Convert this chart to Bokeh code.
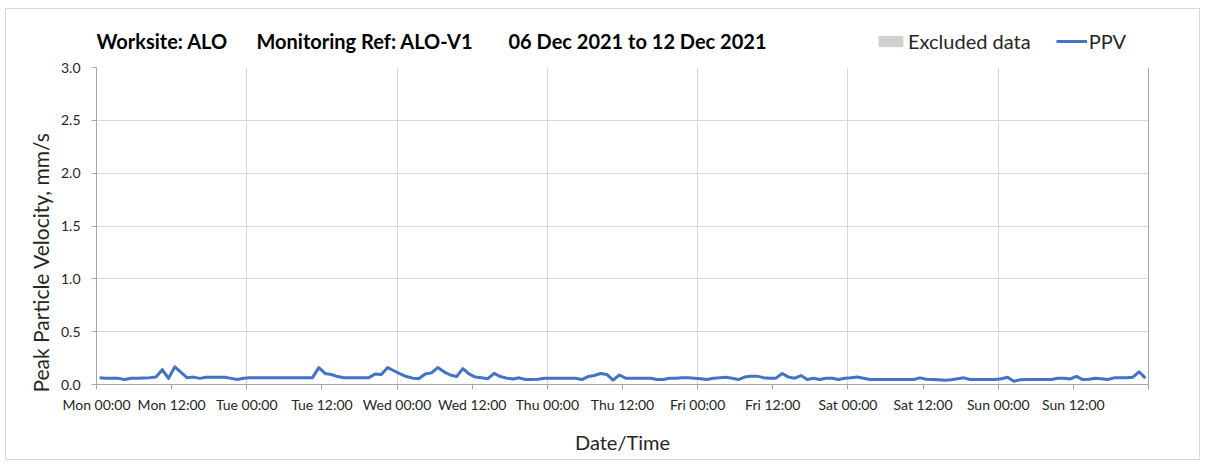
import math
import pandas as pd
from bokeh.plotting import figure
from bokeh.layouts import column, row
from bokeh.models import (ColumnDataSource, FixedTicker, Legend, LegendItem, Label,
                          NumeralTickFormatter, CustomJSTickFormatter, Range1d, LinearAxis)
from bokeh.embed import file_html
from bokeh.resources import INLINE

# ---------------- data ----------------
title_parts = ["Worksite: ALO", "Monitoring Ref: ALO-V1", "06 Dec 2021 to 12 Dec 2021"]
legend_labels = ["Excluded data", "PPV"]
y_axis_title = "Peak Particle Velocity, mm/s"
x_axis_title = "Date/Time"

period_start = "2021-12-06 00:00"
period_end = "2021-12-13 00:00"
first_reading = "2021-12-06 00:30"

ppv = [
    0.065, 0.06, 0.06, 0.058, 0.047, 0.06, 0.06, 0.062, 0.065, 0.072, 0.14, 0.057,
    0.167, 0.115, 0.063, 0.07, 0.058, 0.068, 0.068, 0.068, 0.068, 0.058, 0.047, 0.06,
    0.063, 0.063, 0.063, 0.063, 0.063, 0.063, 0.063, 0.063, 0.063, 0.063, 0.065, 0.16,
    0.105, 0.095, 0.075, 0.063, 0.063, 0.063, 0.063, 0.065, 0.1, 0.095, 0.16, 0.13,
    0.1, 0.075, 0.06, 0.057, 0.1, 0.11, 0.16, 0.12, 0.09, 0.075, 0.15, 0.1,
    0.07, 0.063, 0.055, 0.105, 0.075, 0.06, 0.053, 0.063, 0.047, 0.047, 0.05, 0.06,
    0.06, 0.06, 0.06, 0.06, 0.06, 0.047, 0.075, 0.085, 0.104, 0.095, 0.041, 0.09,
    0.06, 0.06, 0.06, 0.06, 0.06, 0.047, 0.047, 0.06, 0.06, 0.063, 0.063, 0.06,
    0.055, 0.047, 0.06, 0.063, 0.068, 0.06, 0.047, 0.07, 0.079, 0.079, 0.065, 0.06,
    0.06, 0.104, 0.07, 0.06, 0.085, 0.047, 0.06, 0.047, 0.06, 0.06, 0.047, 0.06,
    0.063, 0.07, 0.06, 0.047, 0.047, 0.047, 0.047, 0.047, 0.047, 0.047, 0.047, 0.063,
    0.05, 0.047, 0.045, 0.04, 0.045, 0.055, 0.063, 0.047, 0.047, 0.047, 0.047, 0.047,
    0.055, 0.069, 0.031, 0.045, 0.047, 0.047, 0.047, 0.047, 0.047, 0.06, 0.06, 0.053,
    0.076, 0.047, 0.05, 0.06, 0.055, 0.047, 0.063, 0.063, 0.063, 0.069, 0.12, 0.06,
]

x_tick_labels = ["Mon 00:00", "Mon 12:00", "Tue 00:00", "Tue 12:00", "Wed 00:00",
                 "Wed 12:00", "Thu 00:00", "Thu 12:00", "Fri 00:00", "Fri 12:00",
                 "Sat 00:00", "Sat 12:00", "Sun 00:00", "Sun 12:00"]
y_ticks = [0.0, 0.5, 1.0, 1.5, 2.0, 2.5, 3.0]

# ---------------- build ----------------
times = pd.date_range(first_reading, periods=len(ppv), freq="h")
src = ColumnDataSource(dict(t=times, ppv=ppv))

t_start = pd.Timestamp(period_start)
t_end = pd.Timestamp(period_end)
ms0 = t_start.value // 10**6
ms_end = t_end.value // 10**6
half_day = 12 * 3600 * 1000
x_ticks = list(range(ms0, ms_end + 1, half_day))
day_ticks = list(range(ms0, ms_end + 1, 2 * half_day))

FONT = "Lato"
TXT = "#262626"
AX = "#a6a6a6"
GRID = "#d9d9d9"
BLUE = "#4472C4"
EXCL = "#d0d0d0"
NAN = float("nan")

STRIP_W = 51
FRAME_W = 1052
LEFT, RIGHT = 36, 51
HEAD_H = 50
MAIN_H = 8 + 317 + 75
TOTAL_H = HEAD_H + MAIN_H

# ---- left strip: y-axis title ----
strip = figure(frame_width=STRIP_W, frame_height=TOTAL_H, x_axis_type=None, y_axis_type=None,
               x_range=Range1d(0, STRIP_W), y_range=Range1d(0, TOTAL_H),
               min_border=0, output_backend="svg", toolbar_location=None)
strip.outline_line_color = None
strip.grid.visible = False
strip.background_fill_color = "white"
strip.border_fill_color = "white"
strip.add_layout(Label(x=34, y=197, text=y_axis_title, angle=math.pi / 2,
                       text_font=FONT, text_font_size="21px", text_color=TXT,
                       text_baseline="middle", text_align="center"))

# ---- header strip: title + legend (same frame alignment as the chart) ----
head = figure(frame_width=FRAME_W, frame_height=HEAD_H, x_axis_type=None, y_axis_type=None,
              x_range=Range1d(96, 96 + FRAME_W), y_range=Range1d(0, HEAD_H),
              min_border_left=LEFT, min_border_right=RIGHT, min_border_top=0,
              min_border_bottom=0, output_backend="svg", toolbar_location=None)
head.outline_line_color = None
head.grid.visible = False
head.background_fill_color = "white"
head.border_fill_color = "white"

head.add_layout(Label(x=96, y=19, text=title_parts[0], text_font=FONT,
                      text_font_style="bold", text_font_size="20px", text_color="black",
                      text_baseline="middle", text_align="left"))
head.add_layout(Label(x=256, y=19, text=title_parts[1], text_font=FONT,
                      text_font_style="bold", text_font_size="20px", text_color="black",
                      text_baseline="middle", text_align="left"))
head.add_layout(Label(x=766, y=19, text=title_parts[2], text_font=FONT,
                      text_font_style="bold", text_font_size="20px", text_color="black",
                      text_baseline="middle", text_align="right"))

h_excl = head.quad(left=[NAN], right=[NAN], top=[NAN], bottom=[NAN],
                   fill_color=EXCL, line_color=None)
h_line = head.line(x=[NAN], y=[NAN], line_color=BLUE, line_width=3)
legend = Legend(items=[LegendItem(label=legend_labels[0], renderers=[h_excl]),
                       LegendItem(label=legend_labels[1], renderers=[h_line])],
                orientation="horizontal", location=(779, 6),
                glyph_width=31, glyph_height=14, label_standoff=2, spacing=25,
                padding=0, margin=0, border_line_color=None, background_fill_alpha=0,
                label_text_font=FONT, label_text_font_size="20px", label_text_color=TXT)
head.add_layout(legend)

# ---- main chart ----
p = figure(x_axis_type="datetime", frame_width=FRAME_W, frame_height=317,
           min_border_left=LEFT, min_border_right=RIGHT, min_border_top=8, min_border_bottom=75,
           x_range=Range1d(t_start, t_end), y_range=Range1d(0, 3.0),
           output_backend="svg", toolbar_location=None)
p.outline_line_color = None
p.background_fill_color = "white"
p.border_fill_color = "white"

p.line("t", "ppv", source=src, line_color=BLUE, line_width=3, line_join="round")

xa = p.xaxis[0]
xa.ticker = FixedTicker(ticks=x_ticks)
xa.formatter = CustomJSTickFormatter(args=dict(labels=x_tick_labels, t0=ms0, step=half_day), code="""
const i = Math.round((tick - t0) / step);
return (i >= 0 && i < labels.length) ? labels[i] : "";
""")
xa.axis_line_color = AX
xa.major_tick_line_color = AX
xa.major_tick_in = 0
xa.major_tick_out = 5
xa.minor_tick_line_color = None
xa.major_label_text_font = FONT
xa.major_label_text_font_size = "14px"
xa.major_label_text_color = TXT
xa.major_label_standoff = 6
xa.axis_label = x_axis_title
xa.axis_label_text_font = FONT
xa.axis_label_text_font_size = "20px"
xa.axis_label_text_font_style = "normal"
xa.axis_label_text_color = TXT
xa.axis_label_standoff = 14

ya = p.yaxis[0]
ya.ticker = FixedTicker(ticks=y_ticks)
ya.formatter = NumeralTickFormatter(format="0.0")
ya.axis_line_color = AX
ya.major_tick_line_color = AX
ya.major_tick_in = 0
ya.major_tick_out = 5
ya.minor_tick_line_color = None
ya.major_label_text_font = FONT
ya.major_label_text_font_size = "14px"
ya.major_label_text_color = TXT
ya.major_label_standoff = 11

ra = LinearAxis(ticker=FixedTicker(ticks=[]), axis_line_color=AX,
                major_tick_line_color=None, minor_tick_line_color=None,
                major_label_text_font_size="0px")
p.add_layout(ra, "right")

p.xgrid.ticker = FixedTicker(ticks=day_ticks)
p.xgrid.grid_line_color = GRID
p.ygrid.ticker = FixedTicker(ticks=y_ticks)
p.ygrid.grid_line_color = GRID

layout = row(strip, column(head, p, spacing=0), spacing=0,
             styles={"border": "1px solid #d9d9d9", "margin-top": "8px",
                     "margin-left": "5px", "background": "white"})

open("out.html", "w").write(file_html(layout, INLINE))
